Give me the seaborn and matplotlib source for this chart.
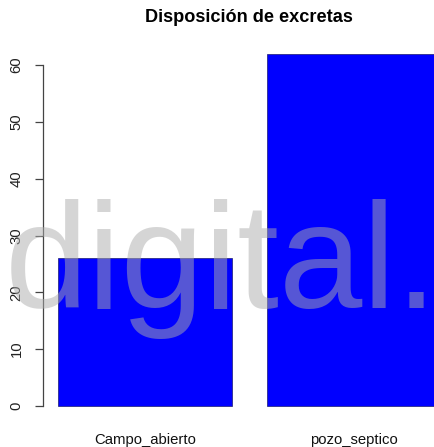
import matplotlib
matplotlib.use("Agg")
import matplotlib.pyplot as plt
import seaborn as sns
import pandas as pd

categorias = ["Campo_abierto", "pozo_septico"]
frecuencias = [26, 62]
ticks_y = [0, 10, 20, 30, 40, 50, 60]
titulo = "Disposición de excretas"
marca = "digital."

sns.set_theme(style="white")
plt.rcParams["font.family"] = ["Liberation Sans", "DejaVu Sans"]

df = pd.DataFrame({"categoria": categorias, "frecuencia": frecuencias})

fig = plt.figure(figsize=(4.35, 4.47), dpi=100)
ax = fig.add_axes([43 / 435, 26.9 / 447, (435 - 43) / 435, 380.5 / 447])

sns.barplot(data=df, x="categoria", y="frecuencia", color="#0000FF",
            saturation=1, width=0.8333, edgecolor="#1a1a70", linewidth=0.5, ax=ax)

ax.set_xlim(-0.4885, 1.389)
ax.set_ylim(-2.48, 64.48)
ax.set_yticks(ticks_y)
ax.set_yticklabels([str(t) for t in ticks_y], rotation=90, va="center",
                   fontsize=10.7, color="#222222")
ax.set_xticks(range(len(categorias)))
ax.set_xticklabels(categorias, fontsize=10.7, color="#111111")
ax.set_xlabel("")
ax.set_ylabel("")

for s in ["top", "right", "bottom"]:
    ax.spines[s].set_visible(False)
ax.spines["left"].set_bounds(0, 60)
ax.spines["left"].set_color("#444444")
ax.spines["left"].set_linewidth(0.9)
ax.tick_params(axis="y", which="both", left=True, length=6, width=0.9,
               color="#444444", pad=8)
ax.tick_params(axis="x", which="both", bottom=False, length=0, pad=9)

fig.text(248.5 / 435, 1 - 18 / 447, titulo, ha="center", va="center",
         fontsize=13.1, fontweight="bold", color="black")

# semi-transparent watermark over the whole figure
fig.text(221 / 435, 139 / 447, marca, ha="center", va="baseline",
         fontsize=108, color="#acacac", alpha=0.5, zorder=10)

fig.savefig("out.png", dpi=100, facecolor="white")
